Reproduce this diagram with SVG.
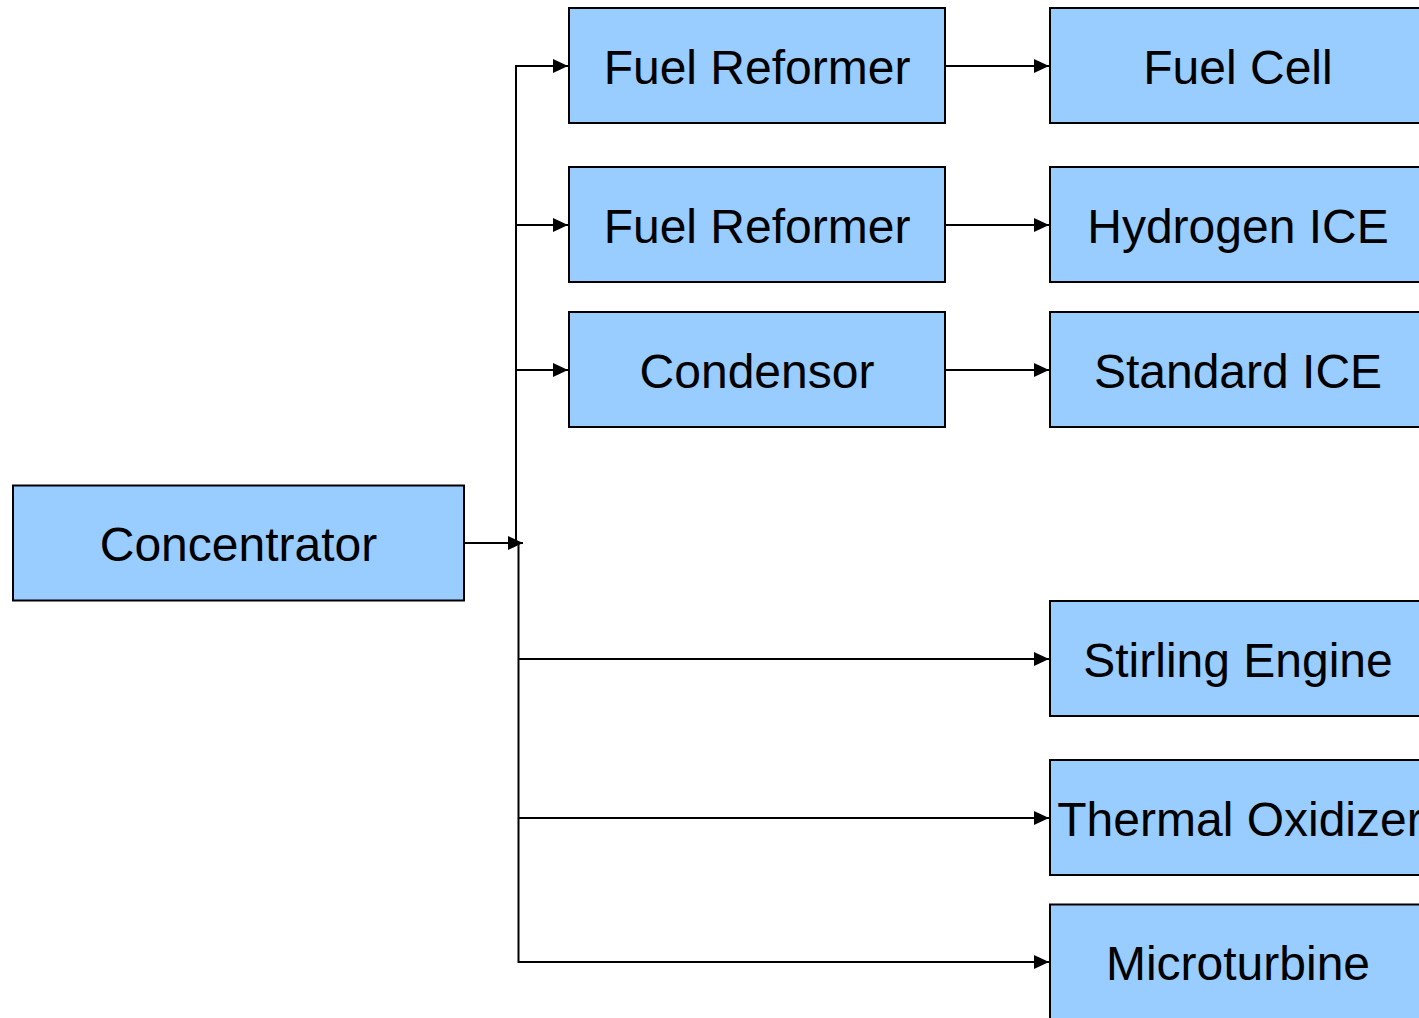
<svg xmlns="http://www.w3.org/2000/svg" width="1419" height="1018" viewBox="0 0 1419 1018">
<style>
.box{fill:#99CCFF;stroke:#000;stroke-width:2}
.lbl{font-family:"Liberation Sans",Arial,sans-serif;font-size:48px;fill:#000;text-anchor:middle}
.ln{fill:none;stroke:#000;stroke-width:2}
</style>
<defs>
<marker id="ah" markerWidth="15" markerHeight="14" refX="15" refY="7" orient="auto" markerUnits="userSpaceOnUse">
<path d="M0,0 L15,7 L0,14 Z" fill="#000"/>
</marker>
</defs>
<rect width="1419" height="1018" fill="#fff"/>
<g id="connectors">
<path class="ln" d="M516,543 V66 H568" marker-end="url(#ah)"/>
<path class="ln" d="M516,225 H568" marker-end="url(#ah)"/>
<path class="ln" d="M516,370 H568" marker-end="url(#ah)"/>
<path class="ln" d="M464,543 H523" marker-end="url(#ah)"/>
<path class="ln" d="M518.5,543 V962 H1049" marker-end="url(#ah)"/>
<path class="ln" d="M518.5,659 H1049" marker-end="url(#ah)"/>
<path class="ln" d="M518.5,818 H1049" marker-end="url(#ah)"/>
<path class="ln" d="M945,66 H1049" marker-end="url(#ah)"/>
<path class="ln" d="M945,225 H1049" marker-end="url(#ah)"/>
<path class="ln" d="M945,370 H1049" marker-end="url(#ah)"/>
</g>
<g id="concentrator"><rect class="box" x="13" y="485.5" width="451" height="115"/><text class="lbl" x="238.5" y="561">Concentrator</text></g>
<g id="fuel-reformer-1"><rect class="box" x="569" y="8" width="376" height="115"/><text class="lbl" x="757" y="84">Fuel Reformer</text></g>
<g id="fuel-reformer-2"><rect class="box" x="569" y="167" width="376" height="115"/><text class="lbl" x="757" y="243">Fuel Reformer</text></g>
<g id="condensor"><rect class="box" x="569" y="312" width="376" height="115"/><text class="lbl" x="757" y="388">Condensor</text></g>
<g id="fuel-cell"><rect class="box" x="1050" y="8" width="376" height="115"/><text class="lbl" x="1238" y="84">Fuel Cell</text></g>
<g id="hydrogen-ice"><rect class="box" x="1050" y="167" width="376" height="115"/><text class="lbl" x="1238" y="243">Hydrogen ICE</text></g>
<g id="standard-ice"><rect class="box" x="1050" y="312" width="376" height="115"/><text class="lbl" x="1238" y="388">Standard ICE</text></g>
<g id="stirling-engine"><rect class="box" x="1050" y="601" width="376" height="115"/><text class="lbl" x="1238" y="677">Stirling Engine</text></g>
<g id="thermal-oxidizer"><rect class="box" x="1050" y="760" width="376" height="115"/><text class="lbl" x="1240" y="836">Thermal Oxidizer</text></g>
<g id="microturbine"><rect class="box" x="1050" y="904.5" width="376" height="120"/><text class="lbl" x="1238" y="980">Microturbine</text></g>
</svg>
